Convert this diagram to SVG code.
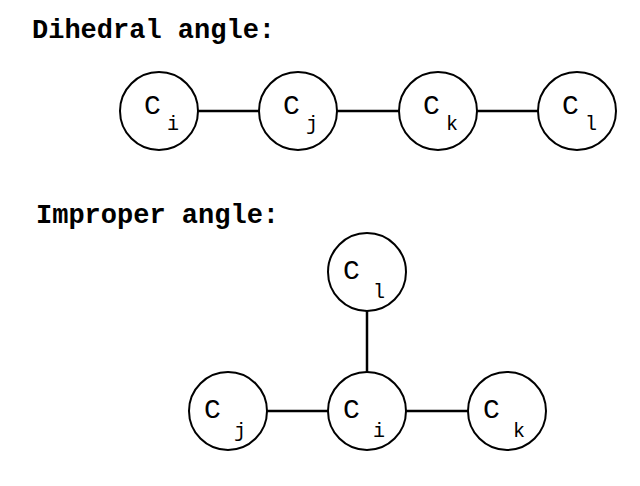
<svg xmlns="http://www.w3.org/2000/svg" width="640" height="486" viewBox="0 0 640 486">
<style>
.title{font-family:"Liberation Mono",monospace;font-weight:bold;font-size:27px;fill:#000}
.c{font-family:"Liberation Mono",monospace;font-size:28px;fill:#000}
.s{font-family:"Liberation Mono",monospace;font-size:20px;fill:#000}
circle{fill:#fff;stroke:#000;stroke-width:2}
line{stroke:#000;stroke-width:2.5}
</style>
<rect width="640" height="486" fill="#fff"/>
<text class="title" x="32" y="38">Dihedral angle:</text>
<text class="title" x="36" y="223">Improper angle:</text>
<g id="connectors">
<line x1="198" y1="111" x2="259" y2="111"/>
<line x1="337" y1="111" x2="399" y2="111"/>
<line x1="477" y1="111" x2="538" y2="111"/>
<line x1="367" y1="311" x2="367" y2="372"/>
<line x1="267" y1="411" x2="328" y2="411"/>
<line x1="406" y1="411" x2="468" y2="411"/>
</g>
<g id="d_ci"><circle cx="159" cy="111" r="39"/><text class="c" x="144" y="114">C</text><text class="s" x="167" y="130">i</text></g>
<g id="d_cj"><circle cx="298" cy="111" r="39"/><text class="c" x="283" y="114">C</text><text class="s" x="306" y="130">j</text></g>
<g id="d_ck"><circle cx="438" cy="111" r="39"/><text class="c" x="423" y="114">C</text><text class="s" x="446" y="130">k</text></g>
<g id="d_cl"><circle cx="577" cy="111" r="39"/><text class="c" x="562" y="114">C</text><text class="s" x="585" y="130">l</text></g>
<g id="i_cl"><circle cx="367" cy="272" r="39"/><text class="c" x="343" y="279">C</text><text class="s" x="373" y="298">l</text></g>
<g id="i_cj"><circle cx="228" cy="411" r="39"/><text class="c" x="204" y="418">C</text><text class="s" x="234" y="437">j</text></g>
<g id="i_ci"><circle cx="367" cy="411" r="39"/><text class="c" x="343" y="418">C</text><text class="s" x="373" y="437">i</text></g>
<g id="i_ck"><circle cx="507" cy="411" r="39"/><text class="c" x="483" y="418">C</text><text class="s" x="513" y="437">k</text></g>
</svg>
